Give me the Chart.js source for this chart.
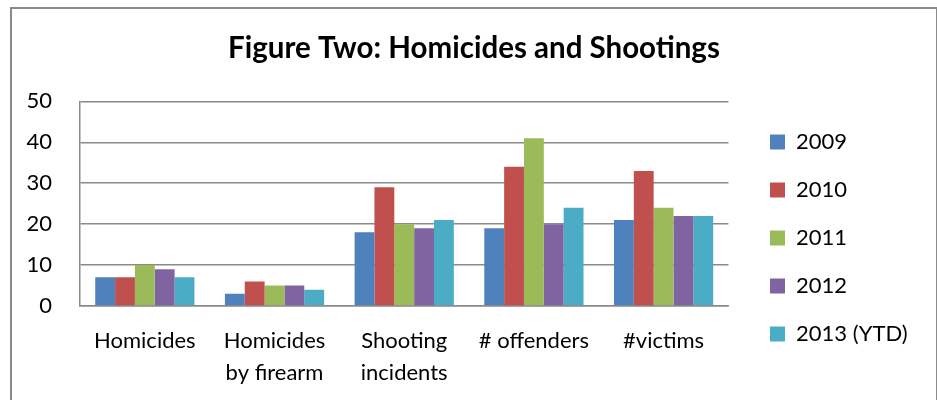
<!DOCTYPE html>
<html>
<head>
<meta charset="utf-8">
<script src="https://cdn.jsdelivr.net/npm/chart.js@4/dist/chart.umd.min.js"></script>
<style>
  body { margin: 0; background: #fff; }
  #frame { position: absolute; left: 10px; top: 7px; width: 924px; height: 420px; border: 2px solid #8a8a8a; }
  #wrap { position: absolute; left: 0; top: 0; width: 937px; height: 400px; }
</style>
</head>
<body>
<div id="frame"></div>
<div id="wrap"><canvas id="chart"></canvas></div>
<script>
// chart data
const categories = [["Homicides"], ["Homicides", "by firearm"], ["Shooting", "incidents"], ["# offenders"], ["#victims"]];
const seriesNames = ["2009", "2010", "2011", "2012", "2013 (YTD)"];
const values2009 = [7, 3, 18, 19, 21];
const values2010 = [7, 6, 29, 34, 33];
const values2011 = [10, 5, 20, 41, 24];
const values2012 = [9, 5, 19, 20, 22];
const values2013 = [7, 4, 21, 24, 22];
const yTicks = [0, 10, 20, 30, 40, 50];

const colors = ["#4F81BD", "#C0504D", "#9BBB59", "#8064A2", "#4BACC6"];
const allValues = [values2009, values2010, values2011, values2012, values2013];

const FONT = "Lato, 'Open Sans', sans-serif";

// move the legend column and the title to where the original has them
const blockPlacer = {
  id: "blockPlacer",
  afterLayout(chart) {
    const lg = chart.legend;
    const w = lg.width, h = lg.height;
    lg.left = 770 - 26;
    lg.right = lg.left + w;
    lg.top = 105;
    lg.bottom = lg.top + h;
    const t = chart.titleBlock;
    t.left = 0;
    t.right = 948;
  },
};

document.addEventListener("DOMContentLoaded", () => {
  const ctx = document.getElementById("chart").getContext("2d");
  new Chart(ctx, {
    type: "bar",
    data: {
      labels: categories,
      datasets: allValues.map((vals, i) => ({
        label: seriesNames[i],
        data: vals,
        backgroundColor: colors[i],
        borderWidth: 0,
        categoryPercentage: 0.765,
        barPercentage: 1.0,
      })),
    },
    options: {
      responsive: true,
      maintainAspectRatio: false,
      animation: false,
      layout: { padding: { left: 0, right: 35, top: 0, bottom: 11 } },
      plugins: {
        title: {
          display: true,
          text: "Figure Two: Homicides and Shootings",
          color: "#000",
          font: { family: FONT, size: 29.5, weight: "bold", lineHeight: 1.2 },
          padding: { top: 31, bottom: 35 },
        },
        legend: {
          position: "right",
          align: "start",
          labels: {
            color: "#000",
            font: { family: FONT, size: 22 },
            boxWidth: 15,
            boxHeight: 15,
            padding: 26,
          },
        },
        tooltip: { enabled: false },
      },
      scales: {
        x: {
          afterFit: (scale) => { scale.height = 83; },
          grid: { display: false, drawTicks: false },
          border: { display: true, color: "#8a8a8a", width: 1.5 },
          ticks: {
            color: "#000",
            font: { family: FONT, size: 22, lineHeight: 1.45 },
            padding: 19,
            maxRotation: 0,
            autoSkip: false,
          },
        },
        y: {
          min: 0,
          max: 50,
          afterFit: (scale) => { scale.width = 80; },
          afterBuildTicks: (scale) => { scale.ticks = yTicks.map((v) => ({ value: v })); },
          grid: { color: "#8a8a8a", lineWidth: 1.5, drawTicks: false },
          border: { display: true, color: "#8a8a8a", width: 1.5 },
          ticks: {
            color: "#000",
            font: { family: FONT, size: 22 },
            padding: 28,
          },
        },
      },
    },
    plugins: [blockPlacer],
  });
});
</script>
</body>
</html>
